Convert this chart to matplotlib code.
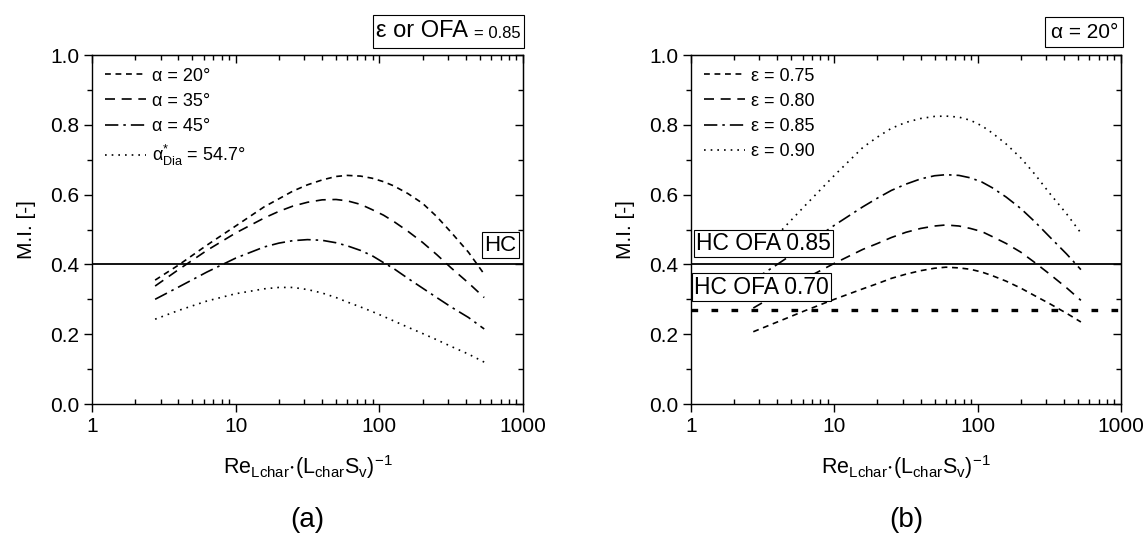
import matplotlib
matplotlib.use('Agg')
import matplotlib.pyplot as plt
from matplotlib.patches import Rectangle
from matplotlib.ticker import FixedLocator, NullFormatter

plt.rcParams['font.family'] = ['Liberation Sans', 'DejaVu Sans']
plt.rcParams['mathtext.fontset'] = 'custom'
plt.rcParams['mathtext.rm'] = 'Liberation Sans'
plt.rcParams['mathtext.it'] = 'Liberation Sans:italic'

# data
x_a = [2.75, 4, 6.3, 10, 15.8, 20, 25, 31.6, 40, 50, 60, 74, 89, 107, 126, 158, 200, 251, 316, 417, 537]
mi_a20 = [0.355, 0.398, 0.455, 0.510, 0.565, 0.588, 0.610, 0.628, 0.642, 0.652, 0.655, 0.653, 0.647,
          0.637, 0.625, 0.603, 0.575, 0.537, 0.492, 0.435, 0.372]
mi_a35 = [0.338, 0.385, 0.440, 0.490, 0.533, 0.552, 0.567, 0.578, 0.585, 0.586, 0.582, 0.572, 0.557,
          0.541, 0.523, 0.495, 0.463, 0.428, 0.390, 0.347, 0.305]
mi_a45 = [0.300, 0.335, 0.378, 0.418, 0.450, 0.461, 0.468, 0.471, 0.469, 0.462, 0.453, 0.440, 0.425,
          0.405, 0.388, 0.360, 0.332, 0.305, 0.278, 0.248, 0.215]
mi_a547 = [0.243, 0.268, 0.295, 0.316, 0.330, 0.334, 0.334, 0.328, 0.318, 0.305, 0.292, 0.278, 0.265,
           0.251, 0.238, 0.220, 0.202, 0.184, 0.165, 0.143, 0.120]

x_b = [2.72, 4, 6.3, 10, 15.8, 20, 25, 31.6, 40, 50, 60, 74, 89, 107, 126, 158, 200, 251, 316, 417, 525]
mi_e75 = [0.207, 0.235, 0.268, 0.300, 0.330, 0.345, 0.360, 0.372, 0.382, 0.389, 0.392, 0.390, 0.386,
          0.378, 0.368, 0.352, 0.332, 0.310, 0.288, 0.260, 0.235]
mi_e80 = [0.275, 0.315, 0.360, 0.403, 0.443, 0.460, 0.477, 0.492, 0.503, 0.510, 0.513, 0.510, 0.503,
          0.494, 0.480, 0.460, 0.435, 0.405, 0.373, 0.333, 0.297]
mi_e85 = [0.355, 0.400, 0.455, 0.512, 0.565, 0.590, 0.612, 0.630, 0.645, 0.654, 0.657, 0.655, 0.648,
          0.636, 0.620, 0.593, 0.560, 0.522, 0.480, 0.430, 0.385]
mi_e90 = [0.420, 0.485, 0.570, 0.655, 0.735, 0.765, 0.790, 0.807, 0.818, 0.824, 0.825, 0.822, 0.813,
          0.797, 0.777, 0.745, 0.705, 0.658, 0.605, 0.545, 0.490]

hc_085 = 0.40
hc_070 = 0.27

labels_a = ['α = 20°', 'α = 35°', 'α = 45°', r'$\mathregular{\alpha^{*}_{Dia}}$ = 54.7°']
labels_b = ['ε = 0.75', 'ε = 0.80', 'ε = 0.85', 'ε = 0.90']
styles = [(0, (3.5, 2.8)), (0, (6, 4)), (0, (8, 3, 1.5, 3)), (0, (1, 3))]

xticks = [1, 10, 100, 1000]
xticklabels = ['1', '10', '100', '1000']
yticks = [0, 0.2, 0.4, 0.6, 0.8, 1.0]
yticklabels = ['0.0', '0.2', '0.4', '0.6', '0.8', '1.0']
yminor = [0.1, 0.3, 0.5, 0.7, 0.9]

fig = plt.figure(figsize=(11.46, 5.46), dpi=100)
ax1 = fig.add_axes([92/1146, 142/546, 431/1146, 349/546])
ax2 = fig.add_axes([691/1146, 142/546, 430/1146, 349/546])


def setup(ax):
    ax.set_xscale('log')
    ax.set_xlim(1, 1000)
    ax.set_ylim(0, 1.0)
    ax.set_xticks(xticks)
    ax.set_xticklabels(xticklabels)
    ax.set_yticks(yticks)
    ax.set_yticklabels(yticklabels)
    ax.yaxis.set_minor_locator(FixedLocator(yminor))
    ax.tick_params(which='major', direction='out', length=6, width=1, labelsize=15, pad=3)
    ax.tick_params(which='minor', direction='out', length=3.5, width=1)
    ax.tick_params(axis='x', which='minor', direction='in')
    for s in ax.spines.values():
        s.set_linewidth(1)
    top = ax.secondary_xaxis('top')
    top.set_xticks(xticks)
    top.tick_params(which='both', direction='in', labeltop=False, width=1)
    top.tick_params(which='major', length=6)
    top.tick_params(which='minor', length=3.5)
    top.xaxis.set_minor_formatter(NullFormatter())
    right = ax.secondary_yaxis('right')
    right.set_yticks(yticks)
    right.yaxis.set_minor_locator(FixedLocator(yminor))
    right.tick_params(which='both', direction='in', labelright=False, width=1)
    right.tick_params(which='major', length=6)
    right.tick_params(which='minor', length=3.5)
    ax.set_xlabel(r'$\mathregular{Re_{Lchar}{\cdot}(L_{char}S_v)^{-1}}$', fontsize=15.5, labelpad=13)
    ax.set_ylabel('M.I. [-]', fontsize=15, labelpad=10)


# panel (a)
for y, lab, ls in zip([mi_a20, mi_a35, mi_a45, mi_a547], labels_a, styles):
    ax1.plot(x_a, y, color='black', lw=1.2, linestyle=ls, label=lab)
ax1.axhline(hc_085, color='black', lw=1.3)
setup(ax1)
ax1.legend(loc='upper left', frameon=False, fontsize=13, handlelength=2.3,
           handletextpad=0.3, labelspacing=0.45, borderaxespad=0.3)
ax1.text(0.985, 0.455, 'HC', transform=ax1.transAxes, ha='right', va='center', fontsize=16,
         bbox=dict(boxstyle='square,pad=0.12', fc='white', ec='black', lw=0.8))

# panel (b)
for y, lab, ls in zip([mi_e75, mi_e80, mi_e85, mi_e90], labels_b, styles):
    ax2.plot(x_b, y, color='black', lw=1.2, linestyle=ls, label=lab)
ax2.axhline(hc_085, color='black', lw=1.3)
ax2.axhline(hc_070, color='black', lw=2.4, linestyle=(0, (2, 4)))
setup(ax2)
ax2.legend(loc='upper left', frameon=False, fontsize=13, handlelength=2.3,
           handletextpad=0.3, labelspacing=0.45, borderaxespad=0.3)
ax2.text(0.012, 0.46, 'HC OFA 0.85', transform=ax2.transAxes, ha='left', va='center', fontsize=16.5,
         bbox=dict(boxstyle='square,pad=0.1', fc='white', ec='black', lw=0.8))
ax2.text(0.008, 0.335, 'HC OFA 0.70', transform=ax2.transAxes, ha='left', va='center', fontsize=16.5,
         bbox=dict(boxstyle='square,pad=0.1', fc='white', ec='black', lw=0.8))

# header boxes above the axes
fig.add_artist(Rectangle((373/1146, 498/546), 151/1146, 33/546, transform=fig.transFigure,
                         fc='white', ec='black', lw=0.8))
fig.text(376/1146, 515/546, 'ε or OFA', fontsize=17, ha='left', va='center')
fig.text(521/1146, 513/546, '= 0.85', fontsize=12, ha='right', va='center')
fig.text(1118/1146, 514/546, 'α = 20°', fontsize=15, ha='right', va='center',
         bbox=dict(boxstyle='square,pad=0.25', fc='white', ec='black', lw=0.8))

fig.text(307/1146, 26/546, '(a)', fontsize=20, ha='center', va='center')
fig.text(906/1146, 26/546, '(b)', fontsize=20, ha='center', va='center')

fig.savefig('out.png', dpi=100)
